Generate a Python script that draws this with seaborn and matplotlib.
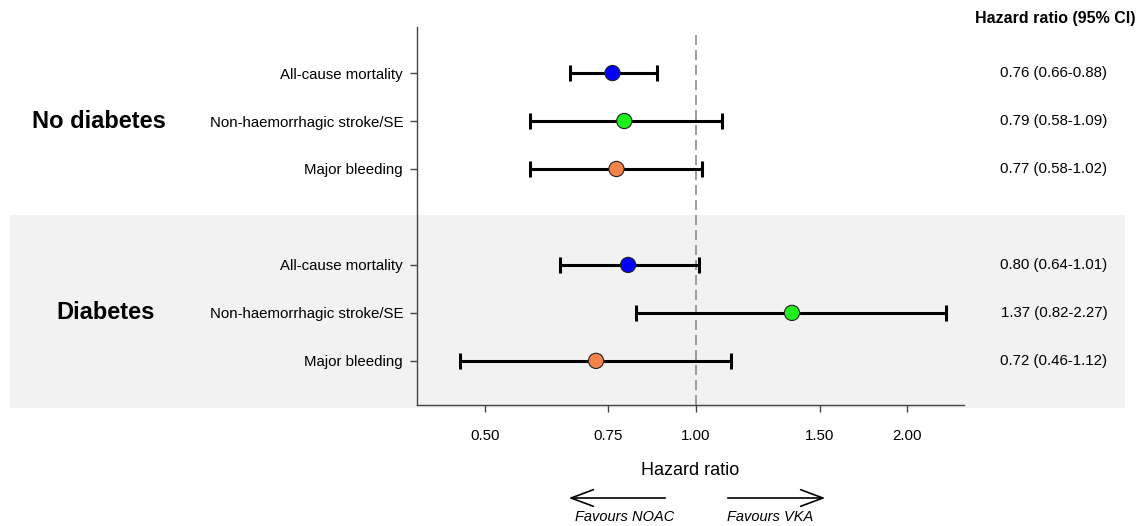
import matplotlib
matplotlib.use("Agg")
import matplotlib.pyplot as plt
import matplotlib.transforms as mtransforms
from matplotlib.patches import Rectangle, FancyArrowPatch
from matplotlib.ticker import NullLocator
import numpy as np
import pandas as pd
import seaborn as sns

# Data
groups = ["No diabetes", "No diabetes", "No diabetes", "Diabetes", "Diabetes", "Diabetes"]
outcomes = ["All-cause mortality", "Non-haemorrhagic stroke/SE", "Major bleeding"] * 2
hr = [0.76, 0.79, 0.77, 0.80, 1.37, 0.72]
ci_low = [0.66, 0.58, 0.58, 0.64, 0.82, 0.46]
ci_high = [0.88, 1.09, 1.02, 1.01, 2.27, 1.12]
x_ticks = [0.50, 0.75, 1.00, 1.50, 2.00]
outcome_colors = {"All-cause mortality": "#0000FF",
                  "Non-haemorrhagic stroke/SE": "#1EF01E",
                  "Major bleeding": "#F5844C"}

df = pd.DataFrame({"group": groups, "outcome": outcomes, "hr": hr,
                   "low": ci_low, "high": ci_high})
# rows 1-3 then a blank row, then 5-7
df["row"] = np.arange(len(df)) + np.arange(len(df)) // 3 + 1

sns.set_theme(style="white")
plt.rcParams["font.family"] = ["Liberation Sans", "DejaVu Sans"]
plt.rcParams["text.color"] = "black"
plt.rcParams["axes.labelcolor"] = "black"

W, H = 1144, 526
fig = plt.figure(figsize=(W / 100, H / 100), dpi=100)
ax = fig.add_axes([417 / W, 1 - 405 / H, (964 - 417) / W, (405 - 27) / H])
ax.set_facecolor("none")

# grey band behind the diabetes group
fig.patches.append(Rectangle((10 / W, 1 - 408 / H), 1115 / W, 193 / H,
                             transform=fig.transFigure, facecolor="#F2F2F2",
                             edgecolor="none", zorder=-1))

# reference line at HR = 1
ax.axvline(1.0, ymin=0, ymax=0.98, color="#8C8C8C", linestyle=(0, (6, 3)),
           linewidth=1.2, zorder=1)

# confidence intervals
ax.errorbar(df["hr"], df["row"],
            xerr=[df["hr"] - df["low"], df["high"] - df["hr"]],
            fmt="none", ecolor="black", elinewidth=2.2, capsize=6,
            capthick=2.2, zorder=2)

# point estimates
sns.scatterplot(data=df, x="hr", y="row", hue="outcome", palette=outcome_colors,
                s=120, edgecolor="#222222", linewidth=0.8, legend=False,
                zorder=3, ax=ax)

ax.set_xscale("log")
ax.set_xlim(0.40, 2.41)
ax.set_ylim(7.92, 0.04)
ax.set_xticks(x_ticks)
ax.set_xticklabels([f"{t:.2f}" for t in x_ticks])
ax.xaxis.set_minor_locator(NullLocator())
ax.set_yticks(df["row"])
ax.set_yticklabels(df["outcome"])
ax.tick_params(axis="x", bottom=True, length=5, width=1, pad=12, labelsize=10.8,
               color="#444444", labelcolor="black")
ax.tick_params(axis="y", left=True, length=5, width=1, pad=5, labelsize=10.8,
               color="#444444", labelcolor="black")
ax.set_xlabel("Hazard ratio", fontsize=13, labelpad=14)
ax.set_ylabel("")

sns.despine(ax=ax, top=True, right=True)
for side in ["left", "bottom"]:
    ax.spines[side].set_color("#444444")
    ax.spines[side].set_linewidth(1.0)

# group labels and HR text column
trans = mtransforms.blended_transform_factory(fig.transFigure, ax.transData)
for name, cx in [("No diabetes", 98.5), ("Diabetes", 106)]:
    mid = df.loc[df["group"] == name, "row"].mean()
    ax.text(cx / W, mid, name, transform=trans, ha="center", va="center",
            fontsize=17, fontweight="bold")

for _, r in df.iterrows():
    ax.text(1054 / W, r["row"], f"{r['hr']:.2f} ({r['low']:.2f}-{r['high']:.2f})",
            transform=trans, ha="center", va="center", fontsize=10.8)
fig.text(1055 / W, 1 - 18 / H, "Hazard ratio (95% CI)", ha="center", va="center",
         fontsize=11.5, fontweight="bold")

# direction arrows
arrow_y = 1 - 498 / H
for x0, x1 in [(668, 566), (725, 828)]:
    fig.patches.append(FancyArrowPatch((x0 / W, arrow_y), (x1 / W, arrow_y),
                                       transform=fig.transFigure,
                                       arrowstyle="->,head_length=1.6,head_width=0.6",
                                       mutation_scale=10, linewidth=1.2,
                                       color="black"))
fig.text(625 / W, 1 - 517 / H, "Favours NOAC", ha="center", va="center",
         fontsize=10.5, style="italic")
fig.text(770 / W, 1 - 517 / H, "Favours VKA", ha="center", va="center",
         fontsize=10.5, style="italic")

fig.savefig("out.png", dpi=100)
